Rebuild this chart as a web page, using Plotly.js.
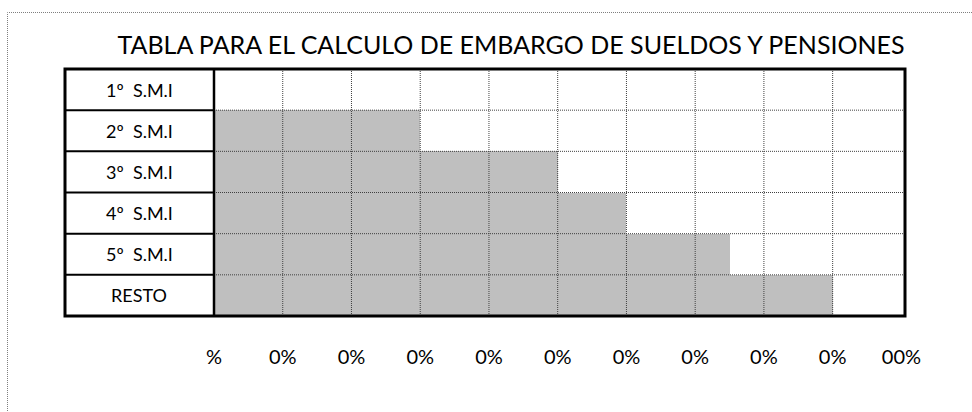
<!DOCTYPE html>
<html><head><meta charset="utf-8">
<script src="https://cdn.plot.ly/plotly-3.0.1.min.js"></script>
<style>html,body{margin:0;padding:0;background:#fff}#chart{width:972px;height:412px}</style>
</head><body><div id="chart"></div>
<script>
const categories = ["1º\u00a0\u00a0S.M.I","2º\u00a0\u00a0S.M.I","3º\u00a0\u00a0S.M.I","4º\u00a0\u00a0S.M.I","5º\u00a0\u00a0S.M.I","RESTO"];
const percentages = [0, 30, 50, 60, 75, 90];
const tickValues = [0, 10, 20, 30, 40, 50, 60, 70, 80, 90, 100];
const tickLabels = ["%", "0%", "0%", "0%", "0%", "0%", "0%", "0%", "0%", "0%", "00%"];
const chartTitle = "TABLA PARA EL CALCULO DE EMBARGO DE SUELDOS Y PENSIONES";

const W = 972, H = 412;
const L = 214, R = 906, T = 69, B = 316;
const px2x = p => (p - L) / (R - L);
const py2y = p => (B - p) / (B - T);
const FONT = "Lato, 'Open Sans', sans-serif";
const dotted = {color: '#404040', width: 1, dash: '1px,1px'};

const shapes = [];
// outer dotted chart border
shapes.push({type: 'rect', xref: 'paper', yref: 'paper', x0: px2x(7.5), x1: px2x(990), y0: py2y(430), y1: py2y(12.5),
  line: {color: '#7f7f7f', width: 1, dash: '1px,1px'}, layer: 'below'});
// vertical grid lines (above bars)
tickValues.slice(1, -1).forEach(t => shapes.push({type: 'line', xref: 'x', yref: 'paper', x0: t, x1: t, y0: 0, y1: 1, line: dotted, layer: 'above'}));
// row separators
for (let i = 0; i < categories.length - 1; i++) {
  shapes.push({type: 'line', xref: 'paper', yref: 'y', x0: 0, x1: 1, y0: i + 0.5, y1: i + 0.5, line: dotted, layer: 'above'});
  shapes.push({type: 'line', xref: 'paper', yref: 'y', x0: px2x(65), x1: 0, y0: i + 0.5, y1: i + 0.5, line: {color: '#000', width: 2}, layer: 'above'});
}
// column separator
shapes.push({type: 'line', xref: 'paper', yref: 'paper', x0: 0, x1: 0, y0: 0, y1: 1, line: {color: '#000', width: 2.5}, layer: 'above'});
// table border
shapes.push({type: 'rect', xref: 'paper', yref: 'paper', x0: px2x(65), x1: px2x(905), y0: py2y(316), y1: py2y(69),
  line: {color: '#000', width: 3}, layer: 'above'});

const annotations = categories.map(c => ({
  xref: 'paper', yref: 'y', x: px2x(139), y: c, text: c, showarrow: false,
  xanchor: 'center', yanchor: 'middle', font: {family: FONT, size: 18, color: '#000'}
}));

const trace = {
  type: 'bar', orientation: 'h', y: categories, x: percentages,
  marker: {color: '#BFBFBF', line: {width: 0}}, width: 1, hoverinfo: 'none'
};

const layout = {
  width: W, height: H,
  margin: {l: L, r: W - R, t: T, b: H - B, pad: 0},
  paper_bgcolor: '#fff', plot_bgcolor: '#fff',
  showlegend: false, bargap: 0,
  title: {text: chartTitle, x: 511 / W, xref: 'container', xanchor: 'center',
    y: 1 - 45 / H, yref: 'container', yanchor: 'middle',
    font: {family: FONT, size: 25, color: '#000'}},
  xaxis: {range: [0, 100.67], tickvals: tickValues, ticktext: tickLabels, showgrid: false, zeroline: false,
    showline: false, ticks: '', ticklabelstandoff: 27, tickfont: {family: FONT, size: 20, color: '#000'}, fixedrange: true},
  yaxis: {type: 'category', categoryorder: 'array', categoryarray: categories, range: [5.5, -0.5],
    showticklabels: false, showgrid: false, zeroline: false, showline: false, ticks: '', fixedrange: true},
  shapes: shapes, annotations: annotations
};

Plotly.newPlot('chart', [trace], layout, {displayModeBar: false, staticPlot: true});
</script></body></html>
